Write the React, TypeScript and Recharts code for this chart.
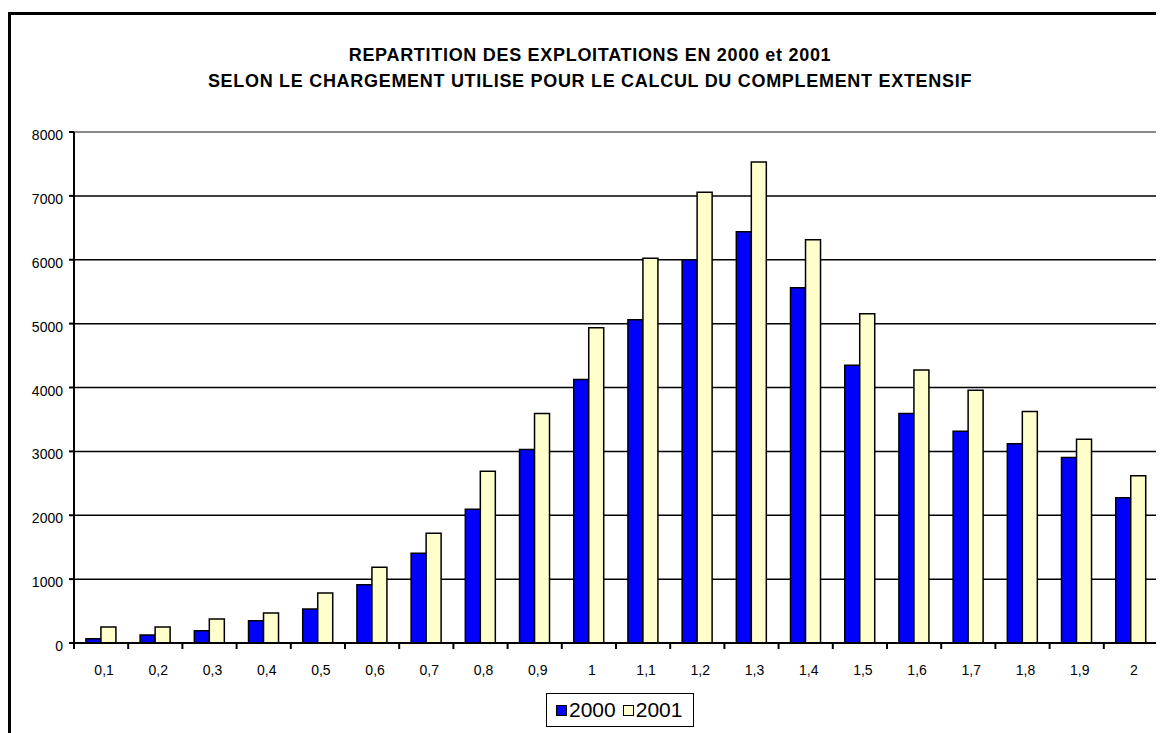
import React from "react";
import { BarChart, Bar, XAxis, YAxis, CartesianGrid, ReferenceLine } from "recharts";

const categories = [
  "0,1", "0,2", "0,3", "0,4", "0,5", "0,6", "0,7", "0,8", "0,9", "1",
  "1,1", "1,2", "1,3", "1,4", "1,5", "1,6", "1,7", "1,8", "1,9", "2",
];
const values2000 = [
  67, 125, 192, 348, 531, 911, 1406, 2094, 3031, 4125,
  5062, 6000, 6437, 5562, 4348, 3594, 3317, 3119, 2906, 2275,
];
const values2001 = [
  250, 250, 375, 469, 781, 1187, 1719, 2688, 3594, 4937,
  6025, 7056, 7531, 6312, 5156, 4275, 3958, 3625, 3188, 2619,
];
const seriesNames = ["2000", "2001"];
const seriesColors = ["#0000FF", "#FFFFCC"];
const yTicks = [0, 1000, 2000, 3000, 4000, 5000, 6000, 7000, 8000];
const titleLines = [
  "REPARTITION DES EXPLOITATIONS EN 2000 et 2001",
  "SELON LE CHARGEMENT UTILISE POUR LE CALCUL DU COMPLEMENT EXTENSIF",
];

const data = categories.map((c, i) => ({
  name: c,
  y2000: values2000[i],
  y2001: values2001[i],
}));

const FONT = '"Liberation Sans", Arial, sans-serif';
const CHART_W = 1156;
const CHART_H = 725;
const Y_AXIS_W = 66;
const MARGIN = { top: 124, right: 6, bottom: 60, left: 0 };
const BAND = (CHART_W - MARGIN.left - MARGIN.right - Y_AXIS_W) / categories.length;

const CategoryTick = (props: any) => {
  const { x, y, payload, index } = props;
  return (
    <g>
      <line x1={x - BAND / 2} x2={x - BAND / 2} y1={y} y2={y + 6} stroke="#000" strokeWidth={2} />
      {index === categories.length - 1 && (
        <line x1={x + BAND / 2} x2={x + BAND / 2} y1={y} y2={y + 6} stroke="#000" strokeWidth={2} />
      )}
      <text x={x + 3} y={y + 32} textAnchor="middle" fontSize={14} fontFamily={FONT} fill="#000">
        {payload.value}
      </text>
    </g>
  );
};

const ValueTick = (props: any) => {
  const { x, y, payload } = props;
  return (
    <text x={x} y={y + 8} textAnchor="end" fontSize={14} fontFamily={FONT} fill="#000">
      {payload.value}
    </text>
  );
};

const App = () => {
  return (
    <div style={{ position: "relative", width: CHART_W, height: CHART_H, overflow: "hidden", background: "#fff" }}>
      {/* frame, runs off the right and bottom edge like the original */}
      <div
        style={{
          position: "absolute",
          left: 0,
          top: 4,
          width: 1300,
          height: 900,
          borderTop: "3px solid #000",
          borderLeft: "3px solid #000",
        }}
      />

      {/* title */}
      <div
        style={{
          position: "absolute",
          left: 590 - 8 - 500,
          top: 34,
          width: 1000,
          textAlign: "center",
          fontFamily: FONT,
          fontWeight: "bold",
          fontSize: 18,
          letterSpacing: 0.7,
          lineHeight: "26px",
          color: "#000",
        }}
      >
        {titleLines.map((t) => (
          <div key={t}>{t}</div>
        ))}
      </div>

      <div style={{ position: "absolute", left: 0, top: 0 }}>
        <BarChart
          width={CHART_W}
          height={CHART_H}
          data={data}
          margin={MARGIN}
          barCategoryGap="22%"
          barGap={0}
        >
          <CartesianGrid vertical={false} stroke="#000" strokeWidth={1.5} />
          <XAxis
            dataKey="name"
            tick={<CategoryTick />}
            tickLine={false}
            tickSize={0}
            tickMargin={0}
            height={30}
            axisLine={{ stroke: "#000", strokeWidth: 2 }}
            interval={0}
          />
          <YAxis
            domain={[0, 8000]}
            ticks={yTicks}
            width={Y_AXIS_W}
            tickSize={5}
            tickMargin={6}
            tick={<ValueTick />}
            tickLine={{ stroke: "#000", strokeWidth: 2 }}
            axisLine={{ stroke: "#000", strokeWidth: 2 }}
            interval={0}
          />
          <YAxis
            yAxisId="right"
            orientation="right"
            width={0}
            tick={false}
            tickLine={false}
            axisLine={{ stroke: "#888", strokeWidth: 2 }}
          />
          <ReferenceLine y={8000} stroke="#888" strokeWidth={2} />
          <Bar
            dataKey="y2000"
            name={seriesNames[0]}
            fill={seriesColors[0]}
            stroke="#000"
            strokeWidth={1.5}
            isAnimationActive={false}
          />
          <Bar
            dataKey="y2001"
            name={seriesNames[1]}
            fill={seriesColors[1]}
            stroke="#000"
            strokeWidth={1.5}
            isAnimationActive={false}
          />
        </BarChart>
      </div>

      {/* legend */}
      <div
        style={{
          position: "absolute",
          left: 546 - 8,
          top: 693 - 8,
          width: 148,
          height: 34,
          border: "1.5px solid #000",
          display: "flex",
          alignItems: "center",
          paddingLeft: 9,
          boxSizing: "border-box",
          fontFamily: FONT,
          fontSize: 21,
          color: "#000",
        }}
      >
        {seriesNames.map((n, i) => (
          <div key={n} style={{ display: "flex", alignItems: "center", marginRight: 7 }}>
            <span
              style={{
                display: "inline-block",
                width: 9,
                height: 9,
                background: seriesColors[i],
                border: "1px solid #000",
                marginRight: 2,
              }}
            />
            <span>{n}</span>
          </div>
        ))}
      </div>
    </div>
  );
};

export default App;
